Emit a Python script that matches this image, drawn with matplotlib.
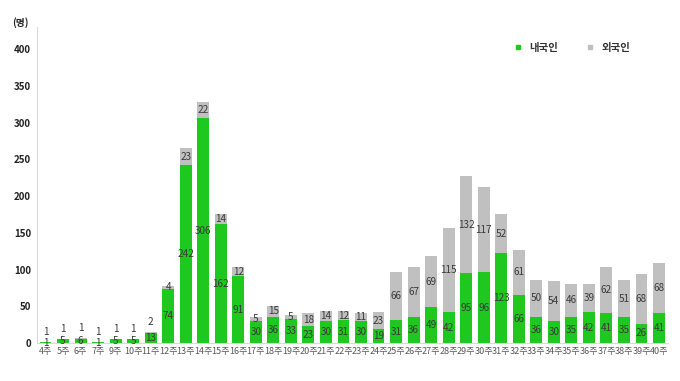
import matplotlib
matplotlib.use("Agg")
import matplotlib.pyplot as plt
from matplotlib.lines import Line2D

plt.rcParams['font.family'] = ['Noto Sans CJK KR', 'DejaVu Sans']

weeks = ['4주', '5주', '6주', '7주', '9주', '10주'] + ['%d주' % w for w in range(11, 41)]
domestic = [1, 5, 6, 1, 5, 5,
            13, 74, 242, 306, 162, 91, 30, 36, 33, 23,
            30, 31, 30, 19, 31, 36, 49, 42, 95, 96,
            123, 66, 36, 30, 35, 42, 41, 35, 26, 41]
foreign = [1, 1, 1, 1, 1, 1,
           2, 4, 23, 22, 14, 12, 5, 15, 5, 18,
           14, 12, 11, 23, 66, 67, 69, 115, 132, 117,
           52, 61, 50, 54, 46, 39, 62, 51, 68, 68]

green = '#1ec81e'
gray = '#c0c0c0'
txt = '#3a3a3a'

fig = plt.figure(figsize=(6.8, 3.81), dpi=100)
ax = fig.add_axes([0.054, 0.0997, 0.928, 0.829])

x = list(range(len(weeks)))
ax.bar(x, domestic, width=0.68, color=green)
ax.bar(x, foreign, width=0.68, bottom=domestic, color=gray)

for i in x:
    d, f = domestic[i], foreign[i]
    ax.text(i, d / 2, str(d), ha='center', va='center', fontsize=7.2, color=txt)
    if d + f < 20:
        ax.annotate(str(f), (i, d + f), xytext=(0, 7), textcoords='offset points',
                    ha='center', va='center', fontsize=7.2, color=txt)
    else:
        ax.text(i, d + f / 2, str(f), ha='center', va='center', fontsize=7.2, color=txt)

ax.set_xlim(-0.5, len(weeks) - 0.5)
ax.set_ylim(0, 430)
ax.set_yticks(range(0, 401, 50))
ax.set_xticks(x)
ax.set_xticklabels(weeks, fontsize=6.5, color='#595959')
for lab in ax.get_yticklabels():
    lab.set_fontsize(7)
    lab.set_fontweight('bold')
    lab.set_color('#222222')
ax.tick_params(axis='both', length=0, pad=4)
ax.tick_params(axis='x', pad=3)

for s in ['top', 'right']:
    ax.spines[s].set_visible(False)
ax.spines['left'].set_color('#d9d9d9')
ax.spines['bottom'].set_color('#d9d9d9')

fig.text(0.018, 0.942, '(명)', fontsize=7, fontweight='bold', color='#222222',
         ha='left', va='center')

handles = [Line2D([], [], marker='s', linestyle='', color=green, markersize=3.5),
           Line2D([], [], marker='s', linestyle='', color=gray, markersize=3.5)]
ax.legend(handles, ['내국인', '외국인'], loc='upper right', bbox_to_anchor=(0.955, 0.98),
          ncol=2, frameon=False, fontsize=7.5, handletextpad=0.1, columnspacing=2.0,
          labelcolor='#333333', prop={'weight': 'bold', 'size': 7.5})

fig.savefig('out.png', dpi=100)
